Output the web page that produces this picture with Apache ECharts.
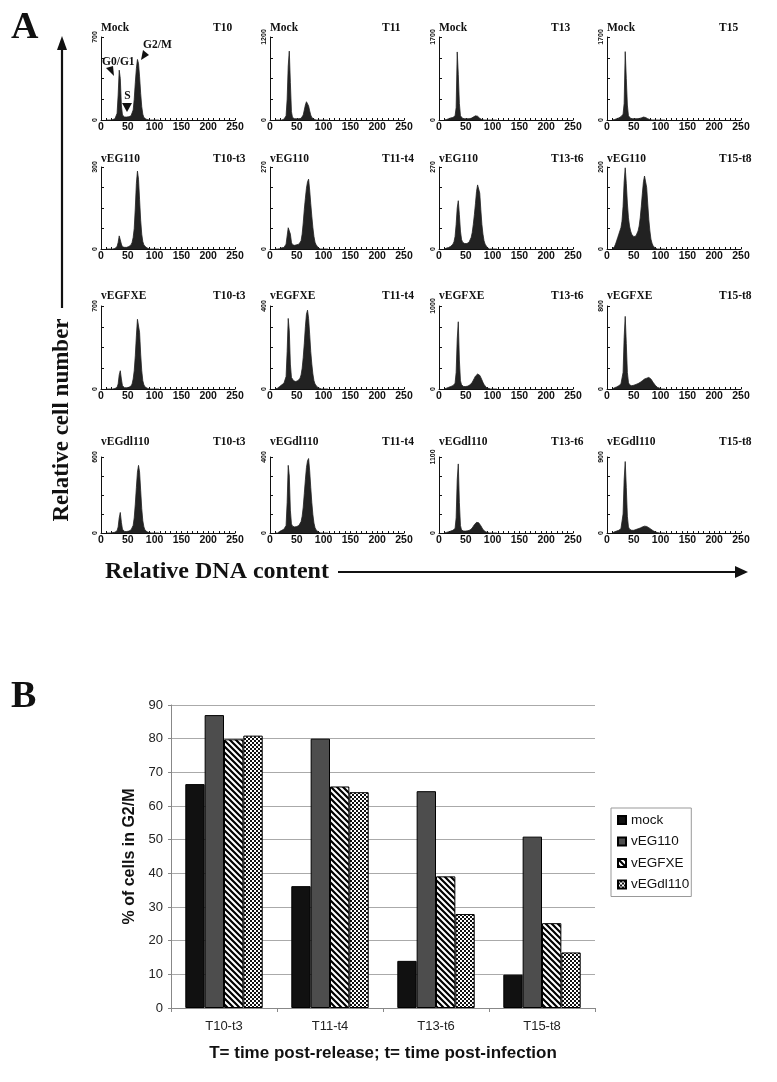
<!DOCTYPE html>
<html><head><meta charset="utf-8">
<script src="https://cdn.jsdelivr.net/npm/echarts@6/dist/echarts.min.js"></script>
<style>html,body{margin:0;padding:0;background:#fff;}#c{width:777px;height:1082px;}</style>
</head><body><div id="c"></div>
<script>
// ---------- Panel A: DNA histograms (bin centres, channel units) ----------
const binX = [10,12,14,16,18,20,22,24,26,28,30,32,34,36,38,40,42,44,46,48,50,52,54,56,58,60,62,64,66,68,70,72,74,76,78,80,82,84,86,88,90,92,94,96,98,100,102,104,106,108];

const hMockT10 = [0,0,0,0,0,0,4,7,10,21, 56,210,420,350,126,42,28,25,25,25, 28,28,32,35,49,84,175,315,434,511, 476,364,224,112,49,21,10,7,4,2, 0,0,0,0,0,0,0,0,0,0];
const hMockT11 = [0,0,0,0,0,0,0,6,12,24, 60,300,780,996,540,120,36,24,18,18, 18,18,18,24,24,36,72,144,216,264, 252,204,132,72,36,18,12,6,0,0, 0,0,0,0,0,0,0,0,0,0];
const hMockT13 = [0,0,9,17,26,34,43,51,51,60, 85,255,1394,935,340,85,51,34,26,26, 26,26,26,26,26,34,43,60,77,85, 85,77,60,34,17,9,0,0,0,0, 0,0,0,0,0,0,0,0,0,0];
const hMockT15 = [0,0,9,17,26,34,43,60,68,85, 119,340,1400,850,306,85,51,34,26,26, 26,26,26,26,26,30,34,43,51,60, 60,51,43,26,17,9,4,0,0,0, 0,0,0,0,0,0,0,0,0,0];

const hEG110T10 = [0,0,0,0,0,0,0,0,2,3, 9,24,48,42,18,8,6,6,6,6, 8,9,11,15,24,42,75,150,240,285, 255,180,105,54,27,15,9,6,3,2, 0,0,0,0,0,0,0,0,0,0];
const hEG110T11 = [0,0,0,0,1,3,4,5,5,8, 16,43,70,76,49,22,14,12,12,14, 14,15,16,19,27,49,86,130,167,200, 221,230,194,149,108,70,41,22,14,8, 4,3,0,0,0,0,0,0,0,0];
const hEG110T13 = [0,0,3,4,5,7,9,14,16,24, 41,81,135,159,113,59,32,22,19,18, 16,18,19,22,27,38,54,81,113,149, 189,211,216,184,130,81,49,27,16,11, 5,3,0,0,0,0,0,0,0,0];
const hEG110T15 = [0,2,6,12,20,28,36,44,52,68, 104,164,198,160,112,76,56,44,36,32, 30,30,32,36,44,56,76,104,136,164, 178,176,150,110,72,44,24,14,8,4, 2,0,0,0,0,0,0,0,0,0];

const hFXET10 = [0,0,0,0,0,0,0,0,4,7, 14,42,119,154,84,28,14,11,11,11, 14,14,18,25,42,84,154,280,448,588, 602,476,294,154,70,35,18,11,7,4, 0,0,0,0,0,0,0,0,0,0];
const hFXET11 = [0,0,4,8,12,16,20,24,28,36, 60,180,340,280,120,56,48,40,36,36, 36,40,44,52,68,100,152,220,300,360, 380,340,264,180,120,72,40,24,16,10, 6,4,0,0,0,0,0,0,0,0];
const hFXET13 = [0,0,10,15,20,25,30,35,40,50, 70,200,600,810,350,100,50,35,30,30, 30,30,35,40,50,60,80,100,130,155, 170,180,180,165,140,110,80,55,35,20, 12,8,5,0,0,0,0,0,0,0];
const hFXET15 = [0,8,12,16,20,24,32,40,48,64, 160,496,700,440,160,64,40,32,32,32, 36,40,44,48,52,56,64,72,80,88, 96,100,104,108,112,108,96,80,64,48, 36,24,16,12,8,4,0,0,0,0];

const hDLT10 = [0,0,0,0,0,0,3,6,6,9, 18,48,120,162,84,30,15,12,12,12, 12,15,18,24,36,60,120,228,360,480, 534,480,336,192,96,48,24,15,9,6, 3,0,0,0,0,0,0,0,0,0];
const hDLT11 = [0,0,0,4,8,12,14,16,20,24, 40,160,356,300,120,48,36,32,32,32, 34,36,40,48,60,88,136,208,280,344, 380,392,328,240,160,96,52,28,16,10, 6,4,0,0,0,0,0,0,0,0];
const hDLT13 = [0,0,9,11,17,22,28,33,39,44, 66,220,770,1000,440,110,44,33,28,28, 28,28,33,39,44,55,72,94,121,143, 154,154,149,132,105,77,50,33,22,13, 9,6,0,0,0,0,0,0,0,0];
const hDLT15 = [0,9,14,18,23,27,32,41,50,72, 225,630,846,540,198,72,45,36,32,32, 32,36,41,45,50,54,59,63,72,77, 81,81,77,72,63,54,45,36,27,18, 14,9,5,0,0,0,0,0,0,0];

const rowNames = ['Mock','vEG110','vEGFXE','vEGdl110'];
const rowTimes = [['T10','T11','T13','T15'],['T10-t3','T11-t4','T13-t6','T15-t8'],['T10-t3','T11-t4','T13-t6','T15-t8'],['T10-t3','T11-t4','T13-t6','T15-t8']];
const yMaxes = [[700,1200,1700,1700],[300,270,270,200],[700,400,1000,800],[600,400,1100,900]];
const xTicks = [0,50,100,150,200,250];
const histograms = [
  [hMockT10,hMockT11,hMockT13,hMockT15],
  [hEG110T10,hEG110T11,hEG110T13,hEG110T15],
  [hFXET10,hFXET11,hFXET13,hFXET15],
  [hDLT10,hDLT11,hDLT13,hDLT15]
];

// ---------- Panel B: % of cells in G2/M ----------
const categories = ['T10-t3','T11-t4','T13-t6','T15-t8'];
const seriesNames = ['mock','vEG110','vEGFXE','vEGdl110'];
const mock     = [66.5, 36.2, 14.0, 9.9];
const vEG110   = [87.0, 80.0, 64.4, 50.9];
const vEGFXE   = [79.8, 65.8, 39.1, 25.2];
const vEGdl110 = [80.9, 64.1, 27.9, 16.5];

// ---------- layout ----------
const colX = [101, 270, 439, 607];
const rowTop = [37, 167, 306, 457];
const rowBot = [120, 249, 389, 533];
const titleY = [28, 159, 296, 442];

function stripes(){
  const c=document.createElement('canvas'); c.width=6; c.height=6;
  const g=c.getContext('2d'); g.fillStyle='#fff'; g.fillRect(0,0,6,6);
  g.strokeStyle='#000'; g.lineWidth=2.2; g.beginPath();
  for(const k of [-6,0,6]){ g.moveTo(k-1,-1); g.lineTo(k+7,7); }
  g.stroke(); return c;
}
function checks(){
  const c=document.createElement('canvas'); c.width=4; c.height=4;
  const g=c.getContext('2d'); g.fillStyle='#111'; g.fillRect(0,0,4,4);
  g.fillStyle='#fff'; g.fillRect(0,0,2,2); g.fillRect(2,2,2,2); return c;
}

const grids=[], xAxes=[], yAxes=[], series=[], graphics=[];
const serifB = 'bold 11.5px "Liberation Serif", "Times New Roman", serif';
const narrow = '"Liberation Sans Narrow", "Arial Narrow", sans-serif';
for(let r=0;r<4;r++){
  for(let c=0;c<4;c++){
    const i=grids.length, M=yMaxes[r][c];
    grids.push({left:colX[c], top:rowTop[r], width:134, height:rowBot[r]-rowTop[r]});
    xAxes.push({type:'value', gridIndex:i, min:xTicks[0], max:xTicks[xTicks.length-1], interval:50,
      axisLine:{lineStyle:{color:'#111',width:1}},
      axisTick:{show:true,inside:true,length:2,lineStyle:{color:'#111'}},
      minorTick:{show:true,splitNumber:5,length:2,lineStyle:{color:'#111'}},
      splitLine:{show:false},
      axisLabel:{fontFamily:narrow,fontWeight:'bold',fontSize:10.5,color:'#111',margin:2}});
    yAxes.push({type:'value', gridIndex:i, min:0, max:M, interval:M/4,
      axisLine:{show:true,lineStyle:{color:'#111',width:1}},
      axisTick:{show:true,inside:true,length:3,lineStyle:{color:'#111'}},
      splitLine:{show:false},
      axisLabel:{rotate:90,fontFamily:narrow,fontWeight:'bold',fontSize:7,color:'#111',margin:2,
        formatter:(v)=> (v===0||v===M)? String(v):''}});
    const arr=histograms[r][c];
    series.push({type:'line', xAxisIndex:i, yAxisIndex:i, data:binX.map((x,k)=>[x,arr[k]]),
      showSymbol:false, symbol:'none', silent:true,
      lineStyle:{width:0.8,color:'#222'}, areaStyle:{color:'#222',opacity:1}});
    graphics.push({type:'text', style:{text:rowNames[r], x:colX[c], y:titleY[r], font:serifB, fill:'#111', verticalAlign:'middle'}});
    graphics.push({type:'text', style:{text:rowTimes[r][c], x:colX[c]+112, y:titleY[r], font:serifB, fill:'#111', verticalAlign:'middle'}});
  }
}

// bar chart grid
const bi = grids.length;
grids.push({left:171, top:705, width:424, height:303});
xAxes.push({type:'category', gridIndex:bi, data:categories,
  axisLine:{lineStyle:{color:'#888'}}, axisTick:{show:true,length:4,lineStyle:{color:'#888'}},
  axisLabel:{fontFamily:'"Liberation Sans", Arial, sans-serif',fontSize:13,color:'#222',margin:12},
  name:'T= time post-release; t= time post-infection', nameLocation:'middle', nameGap:37,
  nameTextStyle:{fontFamily:'"Liberation Sans", Arial, sans-serif',fontWeight:'bold',fontSize:17,color:'#111'}});
yAxes.push({type:'value', gridIndex:bi, min:0, max:90, interval:10,
  axisLine:{show:true,lineStyle:{color:'#888'}}, axisTick:{show:true,length:3,lineStyle:{color:'#888'}},
  splitLine:{lineStyle:{color:'#aaa',width:1}},
  axisLabel:{fontFamily:'"Liberation Sans", Arial, sans-serif',fontSize:13,color:'#222',margin:8},
  name:'% of cells in G2/M', nameLocation:'middle', nameGap:32,
  nameTextStyle:{fontFamily:'"Liberation Sans", Arial, sans-serif',fontWeight:'bold',fontSize:16,color:'#111'}});
const barColors = ['#111111','#4d4d4d',{image:stripes(),repeat:'repeat'},{image:checks(),repeat:'repeat'}];
[mock,vEG110,vEGFXE,vEGdl110].forEach((d,k)=>{
  series.push({type:'bar', name:seriesNames[k], xAxisIndex:bi, yAxisIndex:bi, data:d,
    barGap:'0%', barCategoryGap:'27%',
    itemStyle:{color:barColors[k], borderColor:'#000', borderWidth:1}});
});

// decorations
const big = 'bold 38px "Liberation Serif", "Times New Roman", serif';
graphics.push({type:'text', style:{text:'A', x:11, y:28, font:big, fill:'#111', verticalAlign:'middle'}});
graphics.push({type:'text', style:{text:'B', x:11, y:697, font:big, fill:'#111', verticalAlign:'middle'}});
graphics.push({type:'line', shape:{x1:62,y1:46,x2:62,y2:308}, style:{stroke:'#111',lineWidth:2.2}});
graphics.push({type:'polygon', shape:{points:[[62,36],[57,50],[67,50]]}, style:{fill:'#111'}});
graphics.push({type:'text', rotation:Math.PI/2, x:62, y:420, style:{text:'Relative cell number', x:0, y:0, font:'bold 23px "Liberation Serif", "Times New Roman", serif', fill:'#111', align:'center', verticalAlign:'middle'}});
graphics.push({type:'text', style:{text:'Relative DNA content', x:105, y:572, font:'bold 24px "Liberation Serif", "Times New Roman", serif', fill:'#111', verticalAlign:'middle'}});
graphics.push({type:'line', shape:{x1:338,y1:572,x2:738,y2:572}, style:{stroke:'#111',lineWidth:2.2}});
graphics.push({type:'polygon', shape:{points:[[748,572],[735,566],[735,578]]}, style:{fill:'#111'}});
// phase annotations on first histogram
graphics.push({type:'text', style:{text:'G2/M', x:143, y:45, font:serifB, fill:'#111', verticalAlign:'middle'}});
graphics.push({type:'polygon', shape:{points:[[143,50],[149,55],[141,60]]}, style:{fill:'#111'}});
graphics.push({type:'text', style:{text:'G0/G1', x:102, y:62, font:serifB, fill:'#111', verticalAlign:'middle'}});
graphics.push({type:'polygon', shape:{points:[[106,68],[113,66],[114,76]]}, style:{fill:'#111'}});
graphics.push({type:'text', style:{text:'S', x:127.5, y:96, font:serifB, fill:'#111', align:'center', verticalAlign:'middle'}});
graphics.push({type:'polygon', shape:{points:[[122,103],[132,103],[127,112]]}, style:{fill:'#111'}});

const chart = echarts.init(document.getElementById('c'), null, {renderer:'canvas'});
chart.setOption({
  animation:false,
  backgroundColor:'#fff',
  grid:grids, xAxis:xAxes, yAxis:yAxes, series:series,
  legend:{data:seriesNames, orient:'vertical', left:611, top:808, padding:[5,2,5,6],
    itemWidth:8, itemHeight:8, itemGap:7.5, icon:'rect',
    backgroundColor:'#fff', borderColor:'#999', borderWidth:1, selectedMode:false,
    textStyle:{fontFamily:'"Liberation Sans", Arial, sans-serif',fontSize:13.5,color:'#111',lineHeight:13}},
  graphic:graphics
});
</script></body></html>
